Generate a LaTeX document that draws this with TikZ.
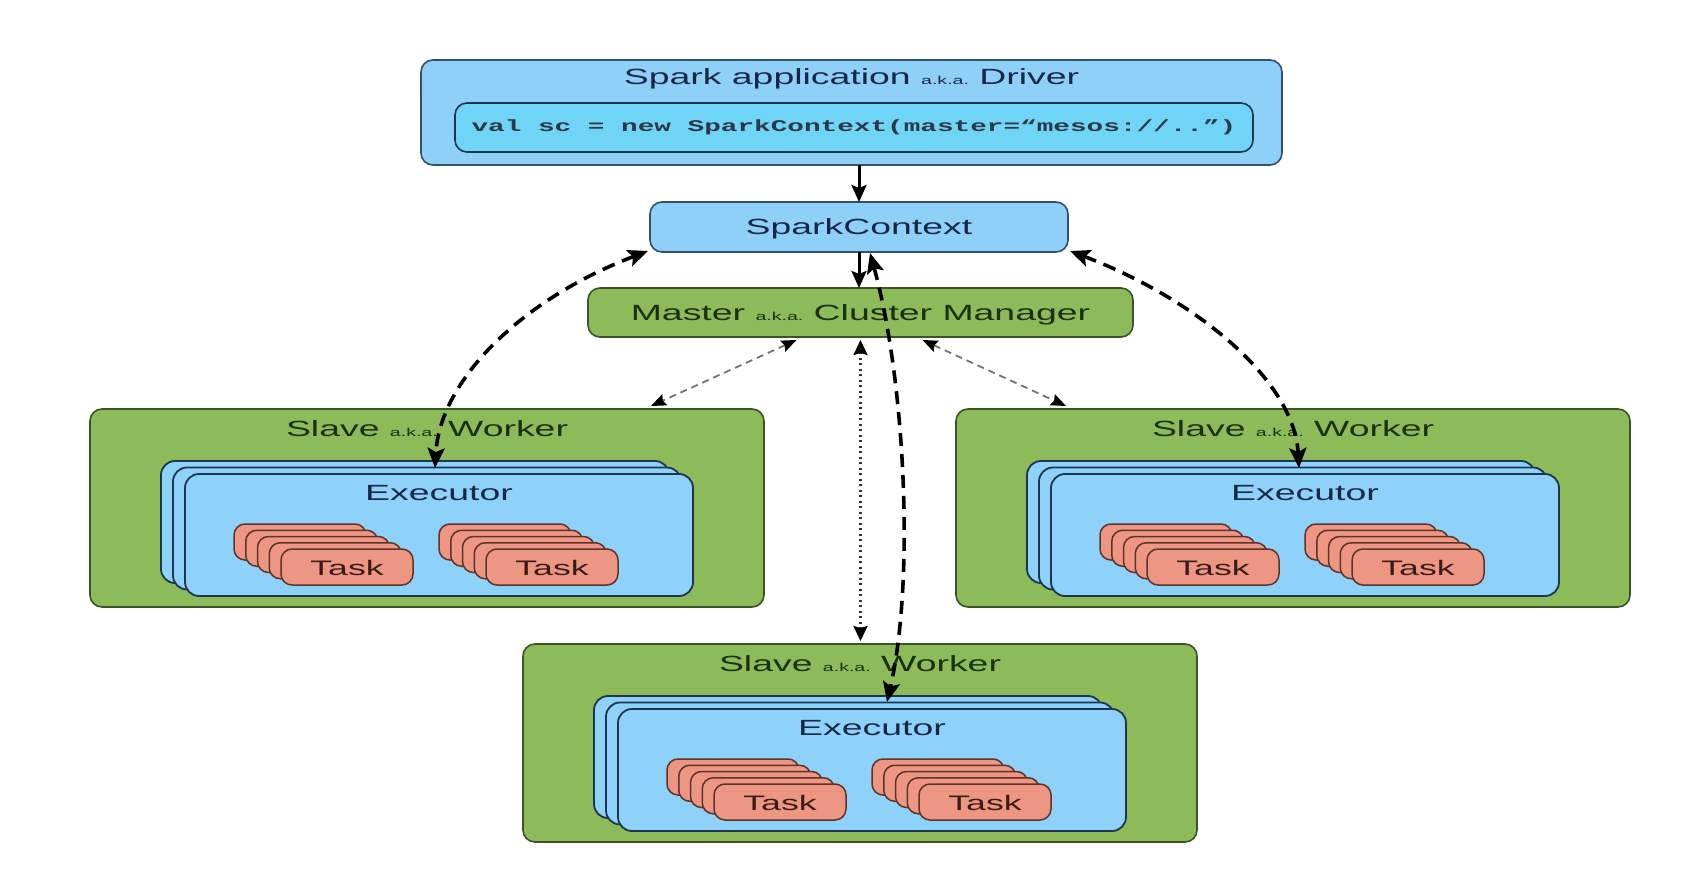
\documentclass[tikz,border=0pt]{standalone}
\usepackage{fontspec}
\newfontfamily\wsans{Liberation Sans}[FakeStretch=1.7]
\newfontfamily\wmono{Liberation Mono}[FakeStretch=1.7]
\usetikzlibrary{arrows.meta,calc}
\definecolor{skyb}{HTML}{8FD0F8}
\definecolor{codeb}{HTML}{70D4F6}
\definecolor{bdr}{HTML}{344F66}
\definecolor{grn}{HTML}{8DBB5A}
\definecolor{gdr}{HTML}{3A5426}
\definecolor{exb}{HTML}{8ED1F9}
\definecolor{edr}{HTML}{1E3552}
\definecolor{tskc}{HTML}{EE9684}
\definecolor{tdr}{HTML}{5E3428}
\definecolor{btx}{HTML}{172846}
\definecolor{gtx}{HTML}{1A3010}
\definecolor{ttx}{HTML}{3A1C14}
\definecolor{ctx}{HTML}{2A3848}
\newcommand\fmain{\wsans\fontsize{22}{26}\selectfont}
\newcommand\ftask{\wsans\fontsize{21}{24}\selectfont}
\newcommand\fcode{\wmono\bfseries\fontsize{16.3}{20}\selectfont}
\newcommand\aka{{\fontsize{11.5}{13}\selectfont a.k.a.}}
\tikzset{
  bbox/.style={draw=bdr, fill=skyb, line width=1.6pt, rounded corners=12pt, inner sep=0pt, outer sep=0pt, anchor=north west},
  gbox/.style={draw=gdr, fill=grn, line width=1.6pt, rounded corners=12pt, inner sep=0pt, outer sep=0pt, anchor=north west},
  ebox/.style={draw=edr, fill=exb, line width=1.8pt, rounded corners=14pt, minimum width=508pt, minimum height=122pt, inner sep=0pt, outer sep=0pt, anchor=north west},
  tbox/.style={draw=tdr, fill=tskc, line width=1.5pt, rounded corners=11pt, minimum width=132pt, minimum height=36pt, inner sep=0pt, outer sep=0pt, anchor=north west, text=ttx, font=\ftask, text depth=0pt},
  btxt/.style={text=btx, font=\fmain, inner sep=0pt, yshift=-2pt},
  gtxt/.style={text=gtx, font=\fmain, inner sep=0pt, yshift=-2pt},
  sarrow/.style={line width=3pt, -{Stealth[length=17pt,width=15pt,inset=3pt]}},
  tdash/.style={line width=3.6pt, dash pattern=on 13pt off 8pt, {Stealth[length=20pt,width=17pt,inset=4pt]}-{Stealth[length=20pt,width=17pt,inset=4pt]}},
  thindash/.style={draw=black!55, line width=1.8pt, dash pattern=on 7pt off 5pt, {Stealth[length=15pt,width=12pt,inset=2pt,color=black]}-{Stealth[length=15pt,width=12pt,inset=2pt,color=black]}},
  dotarr/.style={draw=black!80, line width=2.4pt, dash pattern=on 2pt off 3.5pt, {Stealth[length=15pt,width=14pt,inset=2pt,color=black]}-{Stealth[length=15pt,width=14pt,inset=2pt,color=black]}},
}
% task stack: name, x, y (front box top-left)
\newcommand\tsk[3]{%
  \foreach \k in {4,3,2,1} {\node[tbox] (#1b\k) at (#2-11.75*\k, #3-6.25*\k) {};}
  \node[tbox] (#1) at (#2,#3) {\raisebox{-2pt}{Task}};
}
% worker: name, x, y (top-left)
\newcommand\wrk[3]{%
  \node[gbox, minimum width=674pt, minimum height=198pt] (#1) at (#2,#3) {};
  \node[gtxt] (#1lbl) at ($(#1.north)+(0,18)$) {Slave \aka\ Worker};
  \node[ebox] (#1e2) at (#2+71,#3+52) {};
  \node[ebox] (#1e1) at (#2+83,#3+58.5) {};
  \node[ebox] (#1ex) at (#2+95,#3+65) {};
  \node[btxt] (#1extx) at ($(#1ex.north)+(0,17)$) {Executor};
  \tsk{#1ta}{#2+191}{#3+140}
  \tsk{#1tb}{#2+396}{#3+140}
}
\begin{document}
\begin{tikzpicture}[x=1pt,y=-1pt]
\useasboundingbox[fill=white] (0,0) rectangle (1706,896);
% driver
\node[bbox, minimum width=861pt, minimum height=105pt] (driver) at (421,60) {};
\node[btxt] (drvlbl) at ($(driver.north)+(0,17)$) {Spark application \aka\ Driver};
\node[bbox, fill=codeb, draw=edr, minimum width=798pt, minimum height=49pt] (code) at (455,103) {\fcode\color{ctx}val sc = new SparkContext(master=“mesos://..”)};
% spark context
\node[bbox, minimum width=418pt, minimum height=50pt] (sc) at (650,202) {};
\node[btxt] (sctx) at (sc.center) {SparkContext};
% master
\node[gbox, minimum width=545pt, minimum height=49pt] (master) at (588,288) {};
\node[gtxt] (mtx) at (master.center) {Master \aka\ Cluster Manager};
% workers
\wrk{lw}{90}{409}
\wrk{rw}{956}{409}
\wrk{bw}{523}{644}
% connectors
\draw[sarrow] (sc.north |- driver.south) -- (sc.north);
\draw[sarrow] (sc.south) -- (sc.south |- master.north);
\draw[thindash] ($(master.south)+(-64,3)$) -- ($(lw.north west)+(561,-3)$);
\draw[thindash] ($(master.south)+(62,3)$) -- ($(rw.north west)+(110,-3)$);
\draw[dotarr] ($(master.south)+(0,3)$) -- ($(master.south |- bw.north)+(0,-3)$);
\draw[tdash] ($(sc.south west)+(-2,-1)$) .. controls +(-126,48) and +(5,-88) .. ($(lwex.north)+(-4,-6)$);
\draw[tdash] ($(sc.south east)+(2,-1)$) .. controls +(126,48) and +(-5,-88) .. ($(rwex.north)+(-6,-6)$);
\draw[tdash] ($(sc.south)+(11,1)$) .. controls +(35,126) and +(28,-122) .. ($(bwex.north)+(15,-7)$);
\end{tikzpicture}
\end{document}
